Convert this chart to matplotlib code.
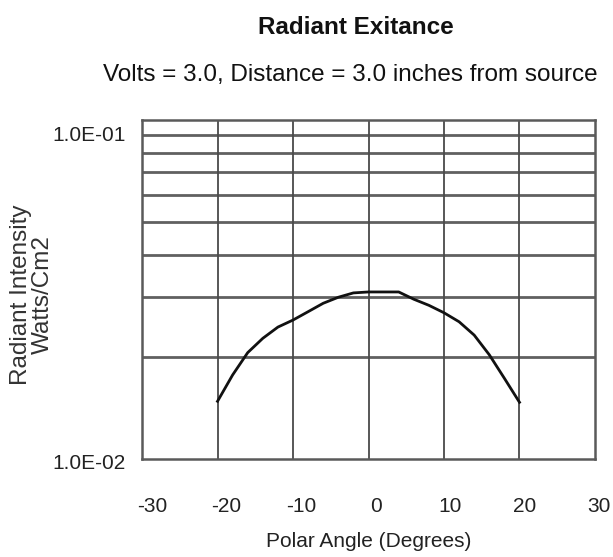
import numpy as np
import matplotlib
matplotlib.use('Agg')
import matplotlib.pyplot as plt
from matplotlib.ticker import FixedLocator, NullFormatter
from matplotlib.transforms import ScaledTranslation

plt.rcParams['font.family'] = ['Liberation Sans', 'DejaVu Sans']

# data
angle = [-20, -18, -16, -14, -12, -10, -8, -6, -4, -2, 0, 2, 4, 6, 8, 10, 12, 14, 16, 18, 20]
intensity = [0.0148, 0.0177, 0.0206, 0.0227, 0.0245, 0.0257, 0.0272, 0.0288, 0.0300, 0.0309, 0.0311,
             0.0311, 0.0311, 0.0296, 0.0284, 0.0270, 0.0254, 0.0232, 0.0203, 0.0173, 0.0147]
xticks = [-30, -20, -10, 0, 10, 20, 30]
yticks = [0.01, 0.1]
yticklabels = ['1.0E-02', '1.0E-01']
hlines = [0.02, 0.03, 0.04, 0.05, 0.06, 0.07, 0.08, 0.09]

fig = plt.figure(figsize=(6.13, 5.57), dpi=100)
ax = fig.add_axes([0.2317, 0.1759, 0.7389, 0.6087])

ax.set_yscale('log')
ax.set_xlim(-30, 30)
ax.set_ylim(0.01, 0.1)

gc = '#5a5a5a'
for y in hlines:
    ax.axhline(y, color='#606060', lw=2.0, zorder=1)
for x in xticks[1:-1]:
    ax.axvline(x, color='#4a4a4a', lw=1.3, zorder=1)

ax.plot(angle, intensity, color='#111111', lw=2.0, zorder=3)

for s in ax.spines.values():
    s.set_color(gc)
    s.set_linewidth(1.8)

ax.set_xticks(xticks)
ax.set_xticklabels([str(v) for v in xticks])
ax.yaxis.set_major_locator(FixedLocator(yticks))
ax.set_yticklabels(yticklabels)
ax.yaxis.set_minor_formatter(NullFormatter())
ax.tick_params(axis='both', which='both', length=0, labelsize=15, colors='#222222')
ax.tick_params(axis='x', pad=27)
ax.tick_params(axis='y', pad=12)

# labels in the original sit a bit off their ticks
for v, lbl in zip(xticks, ax.get_xticklabels()):
    dx = (7 - 0.1 * v) / 100
    lbl.set_transform(lbl.get_transform() + ScaledTranslation(dx, 0, fig.dpi_scale_trans))
ylbls = ax.get_yticklabels()
ylbls[0].set_transform(ylbls[0].get_transform() + ScaledTranslation(0, -0.02, fig.dpi_scale_trans))
ylbls[1].set_transform(ylbls[1].get_transform() + ScaledTranslation(0, -0.14, fig.dpi_scale_trans))

ax.set_xlabel('Polar Angle (Degrees)', fontsize=15, color='#222222', labelpad=12)
ax.set_ylabel('Radiant Intensity\nWatts/Cm2', fontsize=17.5, color='#333333', linespacing=1.0)
ax.yaxis.set_label_coords(-0.195, 0.484)

fig.text(0.58, 0.95, 'Radiant Exitance', ha='center', va='center', fontsize=17.5, fontweight='bold', color='#111111')
fig.text(0.572, 0.865, 'Volts = 3.0, Distance = 3.0 inches from source', ha='center', va='center',
         fontsize=17.5, color='#111111')

fig.savefig('out.png', dpi=100)
